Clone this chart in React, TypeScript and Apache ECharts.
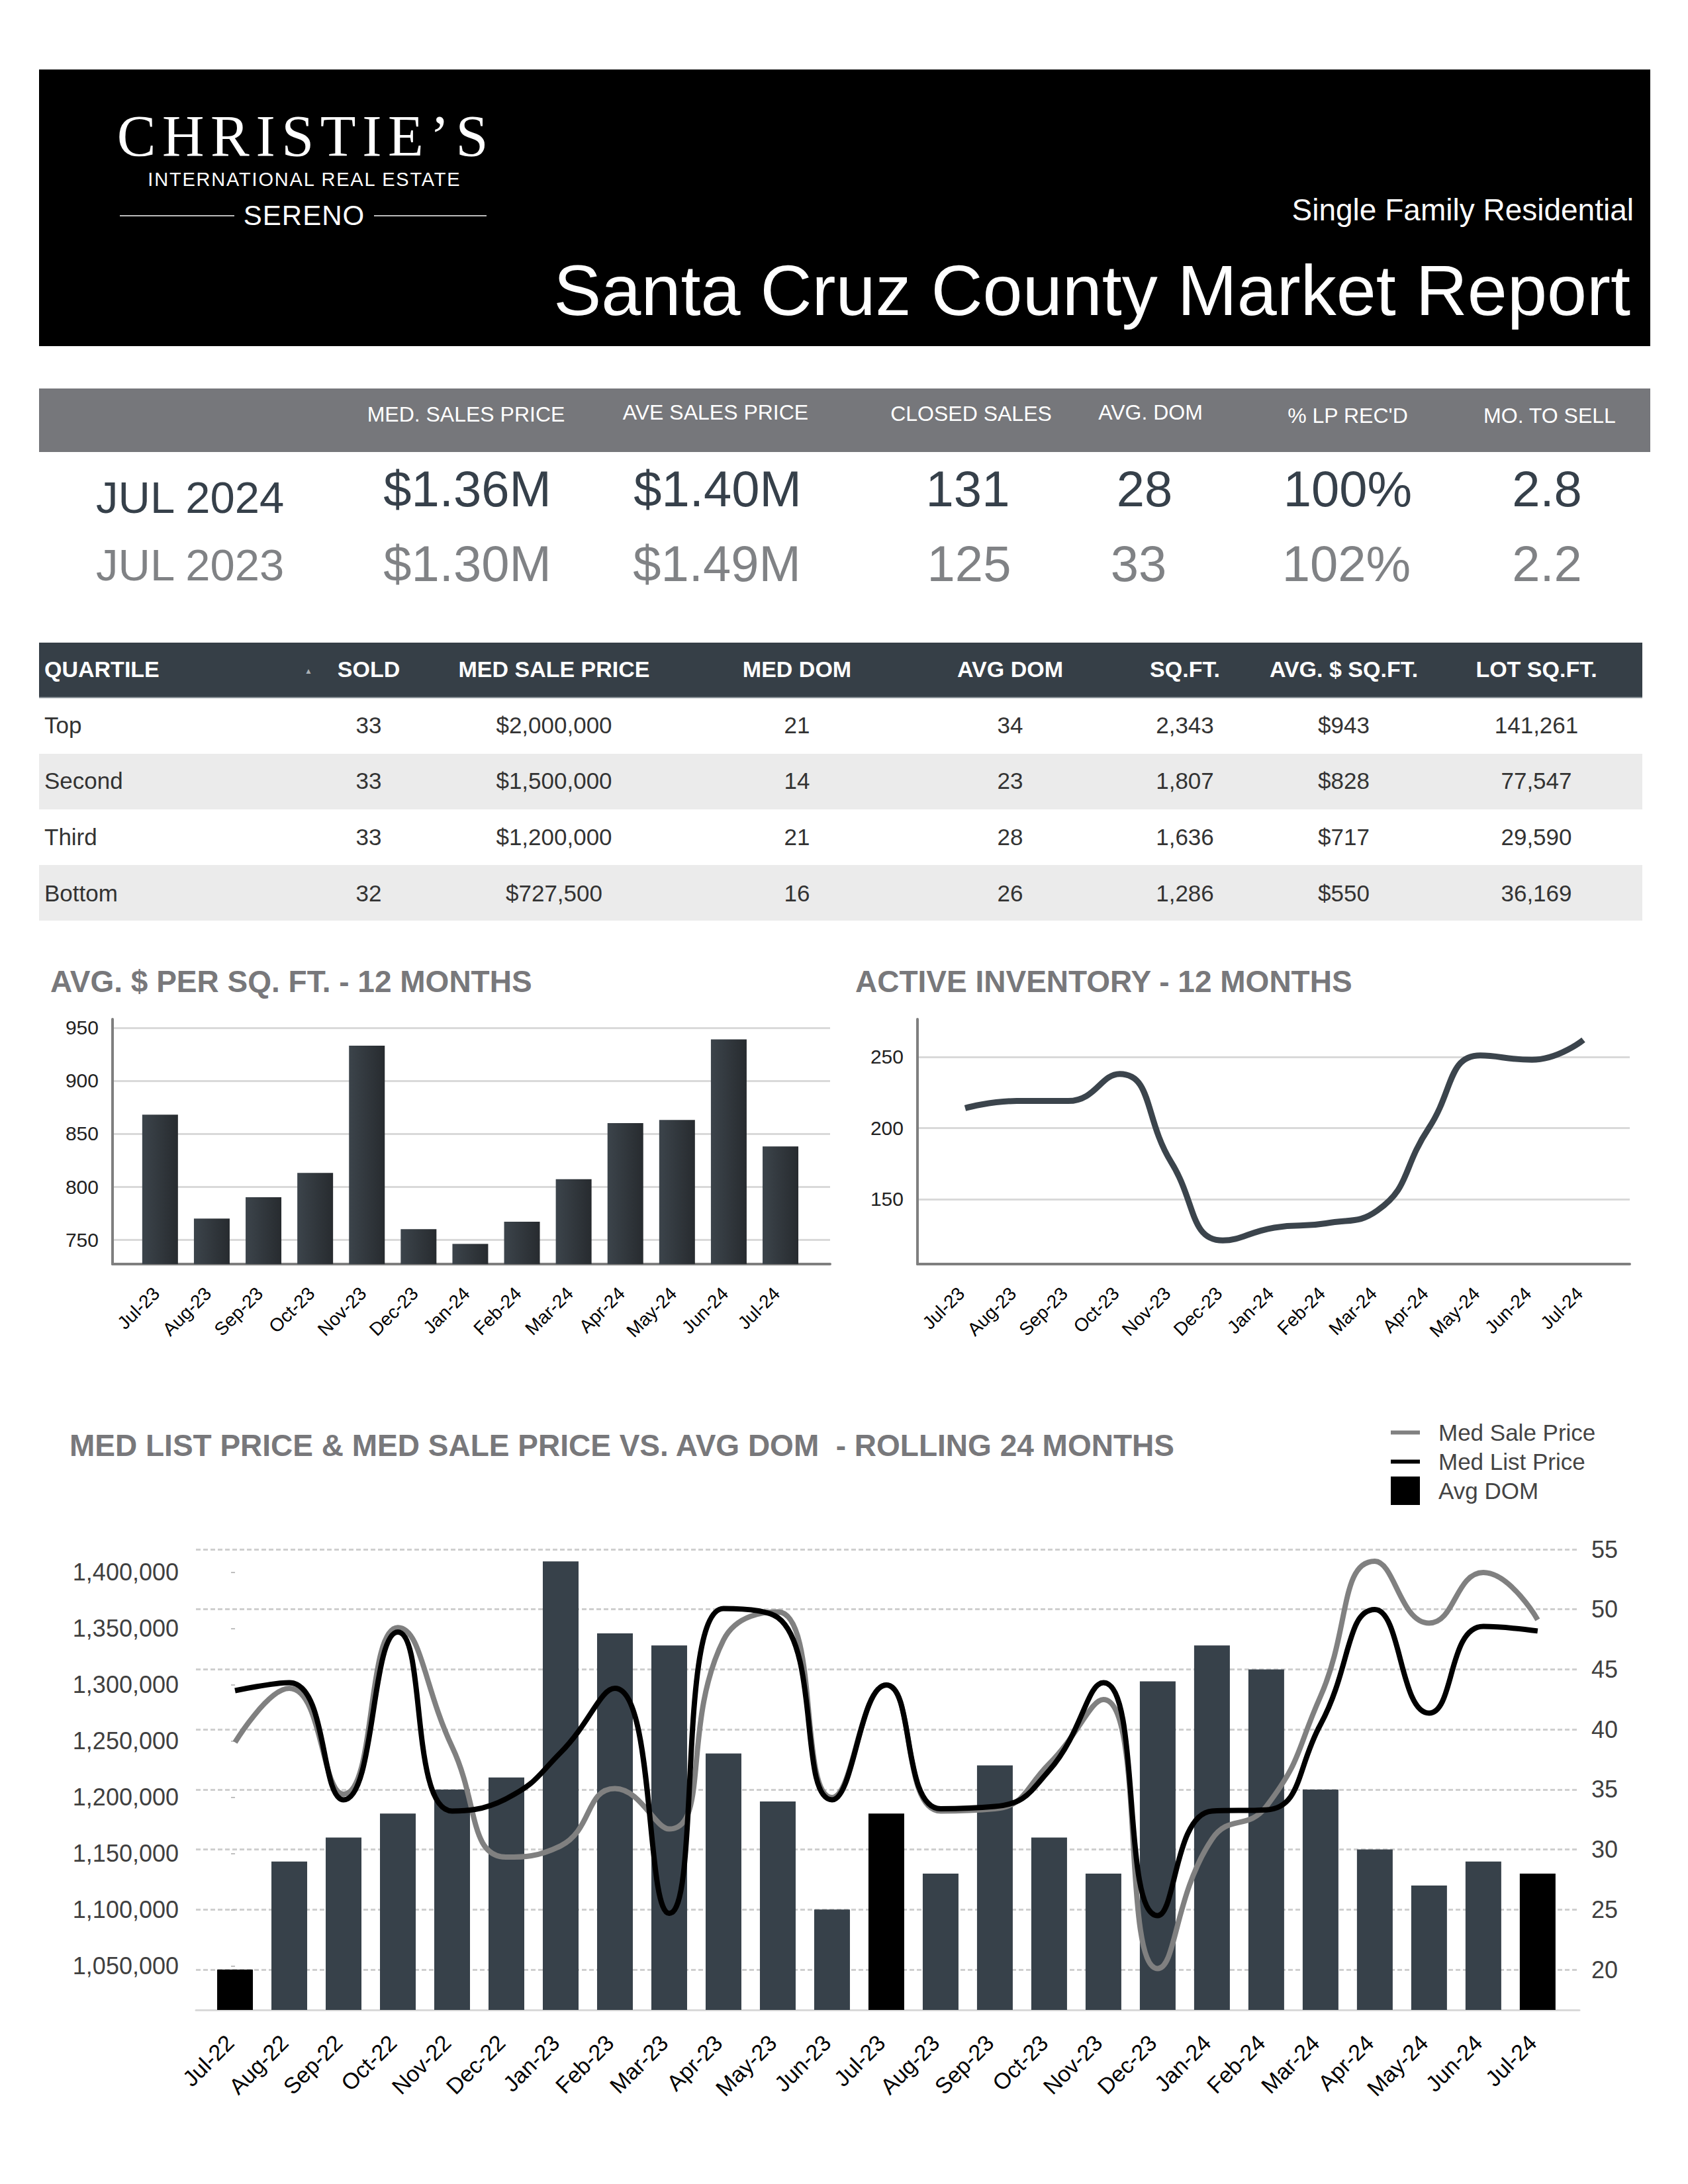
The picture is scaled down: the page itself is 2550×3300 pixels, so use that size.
import React, { useEffect, useRef } from "react";
import * as echarts from "echarts";

// ---------------- DATA ----------------
const kpiHeaders = ["MED. SALES PRICE", "AVE SALES PRICE", "CLOSED SALES", "AVG. DOM", "% LP REC'D", "MO. TO SELL"];
const kpiLabel2024 = "JUL 2024";
const kpiLabel2023 = "JUL 2023";
const kpi2024 = ["$1.36M", "$1.40M", "131", "28", "100%", "2.8"];
const kpi2023 = ["$1.30M", "$1.49M", "125", "33", "102%", "2.2"];

const qHeaders = ["QUARTILE", "SOLD", "MED SALE PRICE", "MED DOM", "AVG DOM", "SQ.FT.", "AVG. $ SQ.FT.", "LOT SQ.FT."];
const quartiles = ["Top", "Second", "Third", "Bottom"];
const qSold = ["33", "33", "33", "32"];
const qMedSalePrice = ["$2,000,000", "$1,500,000", "$1,200,000", "$727,500"];
const qMedDom = ["21", "14", "21", "16"];
const qAvgDom = ["34", "23", "28", "26"];
const qSqft = ["2,343", "1,807", "1,636", "1,286"];
const qAvgPsf = ["$943", "$828", "$717", "$550"];
const qLot = ["141,261", "77,547", "29,590", "36,169"];

const months12 = ["Jul-23", "Aug-23", "Sep-23", "Oct-23", "Nov-23", "Dec-23", "Jan-24", "Feb-24", "Mar-24", "Apr-24", "May-24", "Jun-24", "Jul-24"];
const avgPricePerSqft = [868, 770, 790, 813, 933, 760, 746, 767, 807, 860, 863, 939, 838];
const sqftTicks = [750, 800, 850, 900, 950];
const activeInventory = [214, 219, 219, 238, 176, 121, 130, 133, 142, 200, 251, 248, 262];
const inventoryTicks = [150, 200, 250];

const months24 = ["Jul-22", "Aug-22", "Sep-22", "Oct-22", "Nov-22", "Dec-22", "Jan-23", "Feb-23", "Mar-23", "Apr-23", "May-23", "Jun-23", "Jul-23", "Aug-23", "Sep-23", "Oct-23", "Nov-23", "Dec-23", "Jan-24", "Feb-24", "Mar-24", "Apr-24", "May-24", "Jun-24", "Jul-24"];
const avgDom = [20, 29, 31, 33, 35, 36, 54, 48, 47, 38, 34, 25, 33, 28, 37, 31, 28, 44, 47, 45, 35, 30, 27, 29, 28];
const medSalePrice = [1249000, 1297000, 1203000, 1351000, 1245000, 1147000, 1157000, 1208000, 1172000, 1340000, 1365000, 1200000, 1300000, 1188000, 1190000, 1230000, 1287000, 1048000, 1163000, 1192000, 1290000, 1410000, 1355000, 1400000, 1358000];
const medListPrice = [1295000, 1302000, 1198000, 1347000, 1188000, 1199000, 1240000, 1297000, 1097000, 1368000, 1360000, 1198000, 1300000, 1190000, 1192000, 1224000, 1302000, 1095000, 1188000, 1189000, 1265000, 1367000, 1275000, 1352000, 1348000];
const highlightMonths = ["Jul-22", "Jul-23", "Jul-24"];
const priceTicks = [1050000, 1100000, 1150000, 1200000, 1250000, 1300000, 1350000, 1400000];
const domTicks = [20, 25, 30, 35, 40, 45, 50, 55];

// ---------------- STYLE ----------------
const FONT = '"Liberation Sans", Arial, Helvetica, sans-serif';
const SERIF = '"Liberation Serif", "Times New Roman", serif';
const SANS_M = { a: 0.905, d: 0.212 };
const SERIF_M = { a: 0.891, d: 0.216 };

const fmtComma = (v: number) => Math.round(v).toString().replace(/\B(?=(\d{3})+(?!\d))/g, ",");

type TxtProps = {
  x: number; y: number; size: number; children: React.ReactNode;
  color?: string; anchor?: "start" | "middle" | "end"; weight?: number;
  serif?: boolean; ls?: number; lh?: number;
};
function Txt({ x, y, size, children, color = "#000", anchor = "start", weight = 400, serif = false, ls = 0, lh = 1 }: TxtProps) {
  const m = serif ? SERIF_M : SANS_M;
  const off = ((lh - (m.a + m.d)) / 2 + m.a) * size;
  const style: any = {
    position: "absolute", top: y - off, fontSize: size, lineHeight: `${lh * size}px`, height: lh * size,
    whiteSpace: "pre", color, fontWeight: weight, fontFamily: serif ? SERIF : FONT, letterSpacing: ls,
  };
  if (anchor === "start") style.left = x;
  else if (anchor === "middle") { style.left = x + ls / 2; style.transform = "translateX(-50%)"; }
  else style.right = 2550 - x - ls;
  return <div style={style}>{children}</div>;
}

const kpiHeaderX = [704, 1081, 1467, 1738, 2036, 2341];
const kpiHeaderY = [637, 634, 636, 634, 639, 639];
const kpiRow1X = [706, 1084, 1462, 1729, 2036, 2337];
const kpiRow2X = [706, 1083, 1464, 1720, 2034, 2337];
const qColX = [557, 837, 1204, 1526, 1790, 2030, 2321];

function buildOption(): any {
  const idx12 = months12.map((_, i) => i);
  const idx24 = months24.map((_, i) => i);
  const barGrad = new echarts.graphic.LinearGradient(0, 0, 1, 0, [
    { offset: 0, color: "#3c444b" },
    { offset: 1, color: "#272b2f" },
  ]);
  const smallX = (gridIndex: number, min: number, max: number) => ({
    gridIndex, type: "value", min, max,
    axisLine: { show: true, onZero: false, lineStyle: { color: "#7f7f7f", width: 4 } },
    axisTick: { show: false, customValues: idx12 },
    splitLine: { show: false },
    axisLabel: {
      customValues: idx12, formatter: (v: number) => months12[Math.round(v)] ?? "",
      rotate: 45, fontSize: 28, color: "#000", margin: 34, padding: [0, 8, 0, 0], fontFamily: FONT,
    },
  });
  const smallY = (gridIndex: number, min: number, max: number, ticks: number[]) => ({
    gridIndex, type: "value", min, max,
    axisLine: { show: true, onZero: false, lineStyle: { color: "#7f7f7f", width: 4 } },
    axisTick: { show: false, customValues: ticks },
    axisLabel: { customValues: ticks, fontSize: 30, color: "#222", margin: 21, fontFamily: FONT },
    splitLine: { show: true, lineStyle: { color: "#d9d9d9", width: 3 } },
  });
  const lineIcon = "path://M0,0 L43,0 L43,6 L0,6 Z";

  return {
    animation: false,
    backgroundColor: "transparent",
    textStyle: { fontFamily: FONT },
    grid: [
      { left: 170, top: 1540, width: 1084, height: 370 },
      { left: 1386, top: 1540, width: 1076, height: 370 },
      { left: 296, top: 2341, width: 2090, height: 696 },
    ],
    xAxis: [
      smallX(0, -0.92, 12.96),
      smallX(1, -0.925, 12.9),
      {
        gridIndex: 2, type: "value", min: -0.72, max: 24.77,
        axisLine: { show: true, onZero: false, lineStyle: { color: "#d9d9d9", width: 3 } },
        axisTick: { show: false, customValues: idx24 },
        splitLine: { show: false },
        axisLabel: {
          customValues: idx24, formatter: (v: number) => months24[Math.round(v)] ?? "",
          rotate: 45, fontSize: 34, color: "#000", margin: 36, padding: [0, 11, 0, 0], fontFamily: FONT,
        },
      },
    ],
    yAxis: [
      smallY(0, 727, 958, sqftTicks),
      smallY(1, 104.4, 276.5, inventoryTicks),
      {
        gridIndex: 2, type: "value", position: "left", min: 1011176, max: 1420588,
        axisLine: { show: false },
        axisTick: { show: true, customValues: priceTicks, length: 6, lineStyle: { color: "#bfbfbf", width: 2 } },
        axisLabel: { customValues: priceTicks, formatter: (v: number) => fmtComma(v), fontSize: 36, color: "#404040", margin: 26, fontFamily: FONT },
        splitLine: { show: false },
      },
      {
        gridIndex: 2, type: "value", position: "right", min: 16.64, max: 55,
        axisLine: { show: false },
        axisTick: { show: false, customValues: domTicks },
        axisLabel: { customValues: domTicks, fontSize: 36, color: "#404040", margin: 18, fontFamily: FONT },
        splitLine: { show: true, lineStyle: { color: "#cfcfcf", width: 3, type: [7, 4] } },
      },
    ],
    legend: {
      orient: "vertical", left: 2101, top: 2143, padding: 0,
      itemWidth: 44, itemHeight: 43, itemGap: 1, symbolKeepAspect: true,
      textStyle: { fontSize: 35, lineHeight: 43, color: "#444", fontFamily: FONT, padding: [0, 0, 0, 23] },
      data: [
        { name: "Med Sale Price", icon: lineIcon, itemStyle: { color: "#808080" } },
        { name: "Med List Price", icon: lineIcon, itemStyle: { color: "#000" } },
        { name: "Avg DOM", icon: "rect", itemStyle: { color: "#000" } },
      ],
    },
    graphic: [
      { type: "text", x: 76, y: 1483, style: { text: "AVG. $ PER SQ. FT. - 12 MONTHS", font: `bold 46px ${FONT}`, fill: "#78787b", verticalAlign: "middle", align: "left" } },
      { type: "text", x: 1292, y: 1483, style: { text: "ACTIVE INVENTORY - 12 MONTHS", font: `bold 46px ${FONT}`, fill: "#78787b", verticalAlign: "middle", align: "left" } },
      { type: "text", x: 105, y: 2184, style: { text: "MED LIST PRICE & MED SALE PRICE VS. AVG DOM  - ROLLING 24 MONTHS", font: `bold 46px ${FONT}`, fill: "#78787b", verticalAlign: "middle", align: "left" } },
    ],
    series: [
      {
        type: "bar", xAxisIndex: 0, yAxisIndex: 0, barWidth: 54,
        data: avgPricePerSqft.map((v, i) => [i, v]),
        itemStyle: { color: barGrad },
      },
      {
        type: "line", xAxisIndex: 1, yAxisIndex: 1, smooth: 0.5, symbol: "none",
        data: activeInventory.map((v, i) => [i, v]),
        lineStyle: { color: "#3b444c", width: 9 },
      },
      {
        name: "Avg DOM", type: "bar", xAxisIndex: 2, yAxisIndex: 3, barWidth: 54,
        itemStyle: { color: "#000" },
        data: avgDom.map((v, i) => ({
          value: [i, v],
          itemStyle: { color: highlightMonths.includes(months24[i]) ? "#000" : "#37414a" },
        })),
      },
      {
        name: "Med Sale Price", type: "line", xAxisIndex: 2, yAxisIndex: 2, smooth: 0.5, symbol: "none",
        data: medSalePrice.map((v, i) => [i, v]),
        itemStyle: { color: "#808080" },
        lineStyle: { color: "#808080", width: 8 },
      },
      {
        name: "Med List Price", type: "line", xAxisIndex: 2, yAxisIndex: 2, smooth: 0.5, symbol: "none",
        data: medListPrice.map((v, i) => [i, v]),
        itemStyle: { color: "#000" },
        lineStyle: { color: "#000", width: 8 },
      },
    ],
  };
}

export default function App() {
  const ref = useRef<HTMLDivElement>(null);
  useEffect(() => {
    const chart = echarts.init(ref.current!, null, { renderer: "svg" });
    chart.setOption(buildOption());
    return () => chart.dispose();
  }, []);

  const qRows = quartiles.map((q, r) => [q, qSold[r], qMedSalePrice[r], qMedDom[r], qAvgDom[r], qSqft[r], qAvgPsf[r], qLot[r]]);
  const rowTop = [1055, 1139, 1223, 1307];
  const rowBase = [1108, 1192, 1277, 1362];

  return (
    <div style={{ position: "absolute", left: 0, top: 0, width: 2550, height: 3300, background: "#fff", overflow: "hidden", fontFamily: FONT }}>
      {/* Header */}
      <div style={{ position: "absolute", left: 59, top: 105, width: 2434, height: 418, background: "#000" }} />
      <Txt x={457} y={236} size={88} color="#fff" serif anchor="middle" ls={9.6} lh={0.8}>CHRISTIE’S</Txt>
      <Txt x={459} y={282} size={29} color="#fff" anchor="middle" ls={1.8} lh={0.8}>INTERNATIONAL REAL ESTATE</Txt>
      <Txt x={459} y={341} size={42} color="#fff" anchor="middle" ls={1}>SERENO</Txt>
      <div style={{ position: "absolute", left: 181, top: 325, width: 173, height: 2, background: "#bbb" }} />
      <div style={{ position: "absolute", left: 565, top: 325, width: 170, height: 2, background: "#bbb" }} />
      <Txt x={2468} y={333} size={46} color="#fff" anchor="end">Single Family Residential</Txt>
      <Txt x={2463} y={476} size={108} color="#fff" anchor="end">Santa Cruz County Market Report</Txt>

      {/* KPI band */}
      <div style={{ position: "absolute", left: 59, top: 587, width: 2434, height: 96, background: "#76777b" }} />
      {kpiHeaders.map((h, i) => (
        <Txt key={h} x={kpiHeaderX[i]} y={kpiHeaderY[i]} size={32} color="#fff" anchor="middle">{h}</Txt>
      ))}
      <Txt x={145} y={775} size={67} color="#36404a">{kpiLabel2024}</Txt>
      <Txt x={145} y={877} size={67} color="#808285">{kpiLabel2023}</Txt>
      {kpi2024.map((v, i) => (
        <Txt key={"a" + i} x={kpiRow1X[i]} y={765} size={76} color="#36404a" anchor="middle">{v}</Txt>
      ))}
      {kpi2023.map((v, i) => (
        <Txt key={"b" + i} x={kpiRow2X[i]} y={878} size={76} color="#808285" anchor="middle">{v}</Txt>
      ))}

      {/* Quartile table */}
      <div style={{ position: "absolute", left: 59, top: 971, width: 2422, height: 84, background: "#363f47" }} />
      <div style={{ position: "absolute", left: 59, top: 1053, width: 2422, height: 2, background: "#8a9197" }} />
      <Txt x={67} y={1023} size={34} color="#fff" weight={700}>{qHeaders[0]}</Txt>
      <Txt x={466} y={1018} size={12} color="#aab0b5" anchor="middle">▲</Txt>
      {qHeaders.slice(1).map((h, i) => (
        <Txt key={h} x={qColX[i]} y={1023} size={34} color="#fff" weight={700} anchor="middle">{h}</Txt>
      ))}
      {qRows.map((row, r) => (
        <React.Fragment key={"r" + r}>
          {r % 2 === 1 && (
            <div style={{ position: "absolute", left: 59, top: rowTop[r], width: 2422, height: 84, background: "#ebebeb" }} />
          )}
          <Txt x={67} y={rowBase[r]} size={35} color="#333">{row[0]}</Txt>
          {row.slice(1).map((c, j) => (
            <Txt key={j} x={qColX[j]} y={rowBase[r]} size={35} color="#333" anchor="middle">{c}</Txt>
          ))}
        </React.Fragment>
      ))}

      {/* Charts */}
      <div ref={ref} style={{ position: "absolute", left: 0, top: 0, width: 2550, height: 3300 }} />
    </div>
  );
}
